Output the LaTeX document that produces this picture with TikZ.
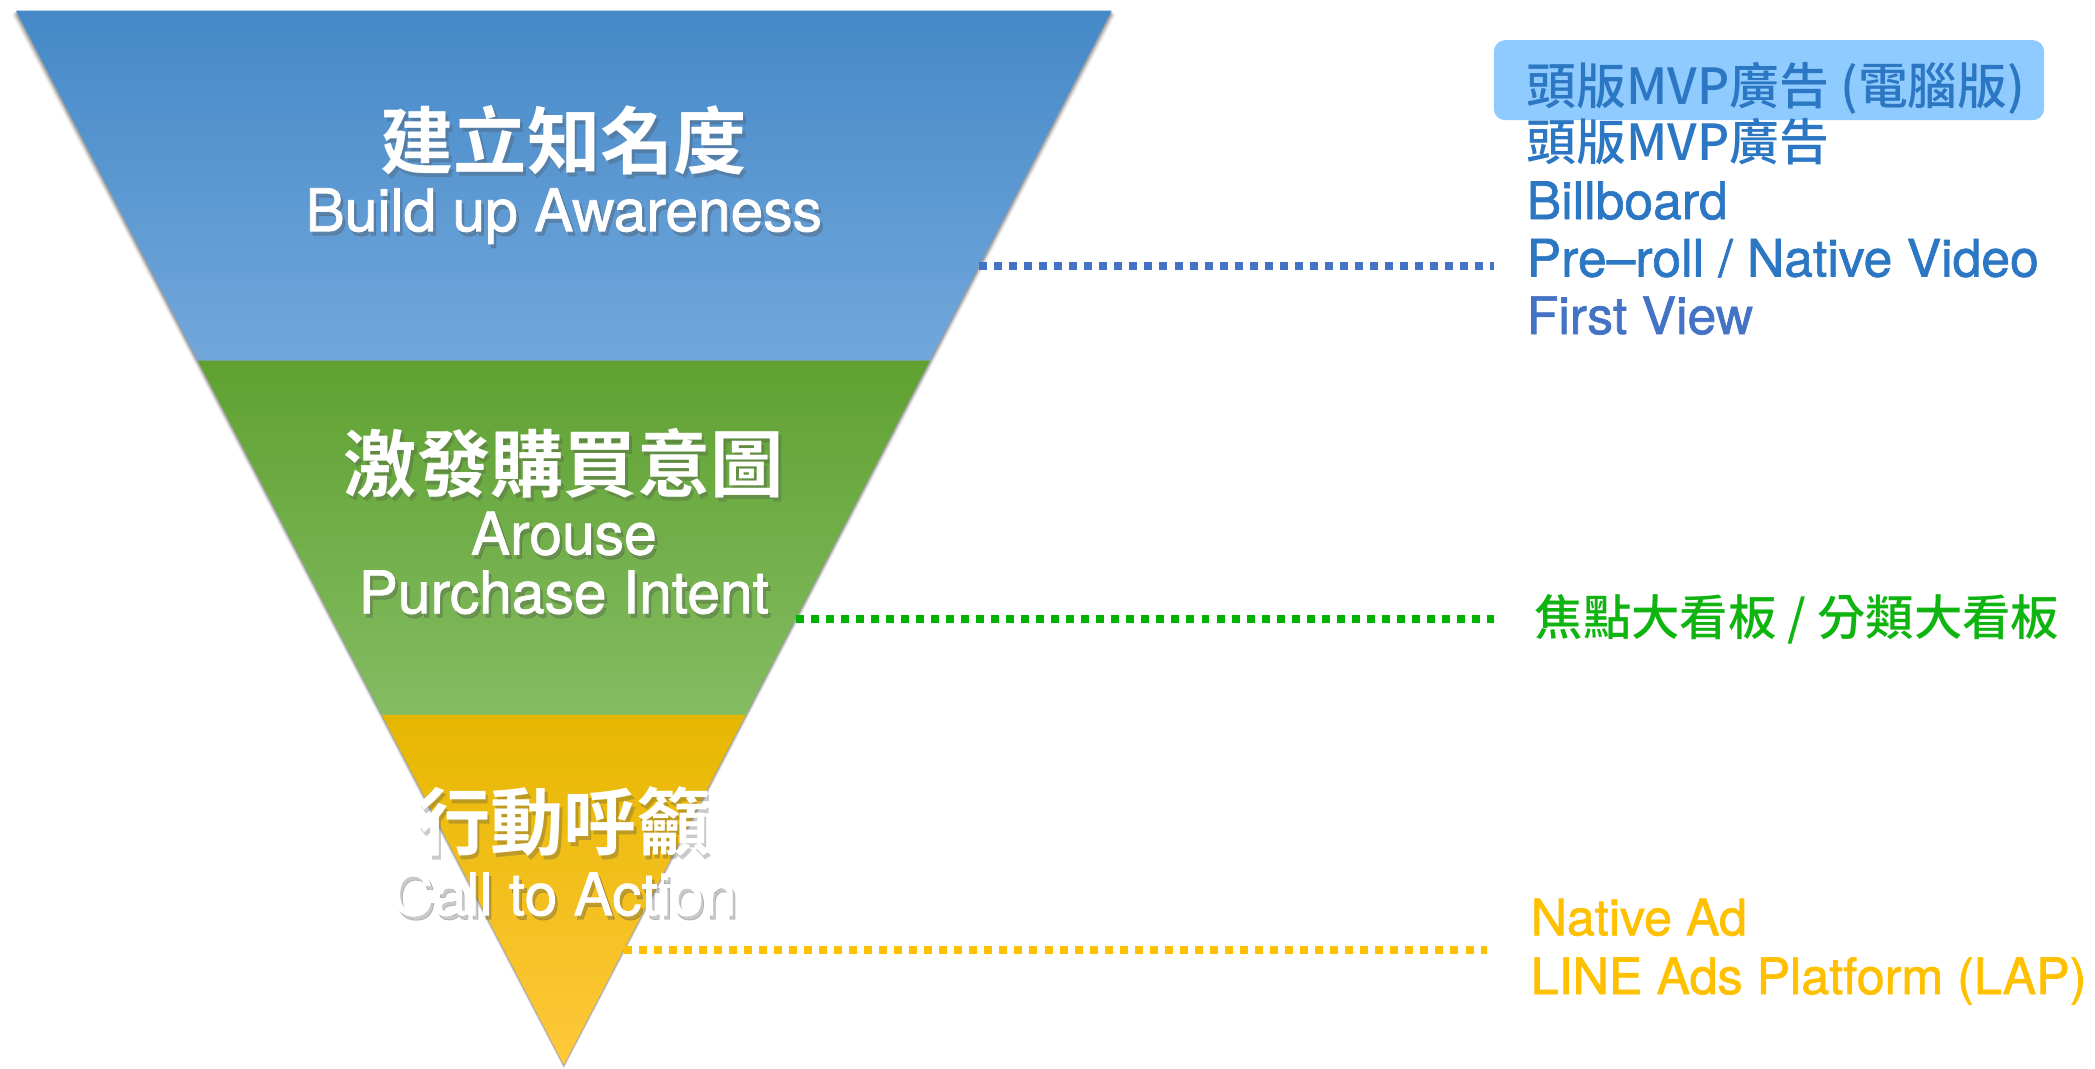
\documentclass[tikz,border=0pt]{standalone}
\usepackage{fontspec}
\usetikzlibrary{calc}
\setmainfont{TeX Gyre Heros}
\newfontfamily\moyen{TeX Gyre Heros}[FakeBold=1.3]
\newfontfamily\cjk{Noto Sans CJK TC}[BoldFont={Noto Sans CJK TC Bold}]
\newfontfamily\cjkmoyen{Noto Sans CJK TC Medium}

\definecolor{bleuHaut}{HTML}{4589C8}
\definecolor{bleuBas}{HTML}{72A7DB}
\definecolor{vertHaut}{HTML}{5FA131}
\definecolor{vertBas}{HTML}{84BC62}
\definecolor{jauneHaut}{HTML}{E6B700}
\definecolor{jauneBas}{HTML}{FFC83A}
\definecolor{surligne}{HTML}{8FCBFE}
\definecolor{bleuTexte}{HTML}{2C77C3}
\definecolor{bleuVue}{HTML}{4472C4}
\definecolor{vertTexte}{HTML}{10B410}
\definecolor{jauneTexte}{HTML}{FFC000}

% texte blanc avec ombre portee
\newcommand{\etiquette}[4]{%
    \node[#3, text=black!70, opacity=.3] (#1-ombre) at ($(#2)+(2,3)$) {#4};
    \node[#3] (#1) at (#2) {#4};
}

\begin{document}
\begin{tikzpicture}[x=0.01cm, y=-0.01cm,
    titre/.style={font=\cjk\bfseries\fontsize{15.6}{18}\selectfont, text=white, inner sep=0pt},
    soustitre/.style={font=\moyen\fontsize{12.5}{15}\selectfont, text=white, inner sep=0pt, anchor=base},
    liste/.style={inner sep=0pt, anchor=base west},
    pointille/.style={line width=1.7pt, dash pattern=on 1.7pt off 1.5pt}]
    \useasboundingbox (0,0) rectangle (1568,800);

    % Sommets de l'entonnoir
    \coordinate (hautG) at (12,8);
    \coordinate (hautD) at (832,8);
    \coordinate (sommet) at (422,797);
    \coordinate (bleuG) at ($(hautG)!0.332!(sommet)$);
    \coordinate (bleuD) at ($(hautD)!0.332!(sommet)$);
    \coordinate (vertG) at ($(hautG)!0.668!(sommet)$);
    \coordinate (vertD) at ($(hautD)!0.668!(sommet)$);

    % Ombre legere autour de l'entonnoir
    \foreach \j in {1,...,3} {
        \pgfmathsetmacro{\opacite}{0.07*(4-\j)}
        \fill[black, opacity=\opacite] ($(hautG)+(-\j,\j)$) -- ($(hautD)+(\j,\j)$) -- ($(sommet)+(0,\j)$) -- cycle;
    }

    % Les trois etages
    \shade[top color=bleuHaut, bottom color=bleuBas] (hautG) -- (hautD) -- (bleuD) -- (bleuG) -- cycle;
    \shade[top color=vertHaut, bottom color=vertBas] (bleuG) -- (bleuD) -- (vertD) -- (vertG) -- cycle;
    \shade[top color=jauneHaut, bottom color=jauneBas] (vertG) -- (vertD) -- (sommet) -- cycle;

    % Textes de l'entonnoir
    \etiquette{notoriete}{422,105}{titre}{建立知名度}
    \etiquette{awareness}{422,173}{soustitre}{Build up Awareness}
    \etiquette{intention}{422,347}{titre}{激發購買意圖}
    \etiquette{arouse}{422,415}{soustitre}{Arouse}
    \etiquette{purchase}{422,459}{soustitre}{Purchase Intent}
    \etiquette{appel}{422,615}{titre}{行動呼籲}
    \etiquette{action}{422,685}{soustitre}{Call to Action}

    % Liste bleue
    \fill[surligne, rounded corners=2.5pt] (1118,30) rectangle (1530,90);
    \node[liste, font=\cjkmoyen\fontsize{10.6}{13}\selectfont, text=bleuTexte] (mvpPC) at (1142,78) {頭版MVP廣告 (電腦版)};
    \node[liste, font=\cjkmoyen\fontsize{10.6}{13}\selectfont, text=bleuTexte] (mvp) at (1142,120) {頭版MVP廣告};
    \node[liste, font=\moyen\fontsize{11}{13}\selectfont, text=bleuTexte] (billboard) at (1142,164) {Billboard};
    \node[liste, font=\moyen\fontsize{11}{13}\selectfont, text=bleuTexte] (preroll) at (1142,207) {Pre–roll / Native Video};
    \node[liste, font=\moyen\fontsize{11}{13}\selectfont, text=bleuVue] (firstview) at (1142,250) {First View};

    % Liste verte
    \node[liste, font=\cjkmoyen\fontsize{10.3}{12}\selectfont, text=vertTexte] (panneaux) at (1148,476) {焦點大看板 / 分類大看板};

    % Liste jaune
    \node[liste, font=\moyen\fontsize{10.7}{13}\selectfont, text=jauneTexte] (nativead) at (1145,700) {Native Ad};
    \node[liste, font=\moyen\fontsize{10.7}{13}\selectfont, text=jauneTexte] (lap) at (1145,744) {LINE Ads Platform (LAP)};

    % Pointilles entre entonnoir et listes
    \coordinate (bordBleu) at ($(hautD)!0.242!(sommet)$);
    \coordinate (bordVert) at ($(hautD)!0.577!(sommet)$);
    \coordinate (bordJaune) at ($(hautD)!0.891!(sommet)$);
    \draw[pointille, bleuVue] (bordBleu) -- ($(preroll.west |- bordBleu)+(-24,0)$);
    \draw[pointille, green!70!black] (bordVert) -- ($(panneaux.west |- bordVert)+(-30,0)$);
    \draw[pointille, jauneTexte] (bordJaune) -- ($(lap.west |- bordJaune)+(-32,0)$);
\end{tikzpicture}
\end{document}
